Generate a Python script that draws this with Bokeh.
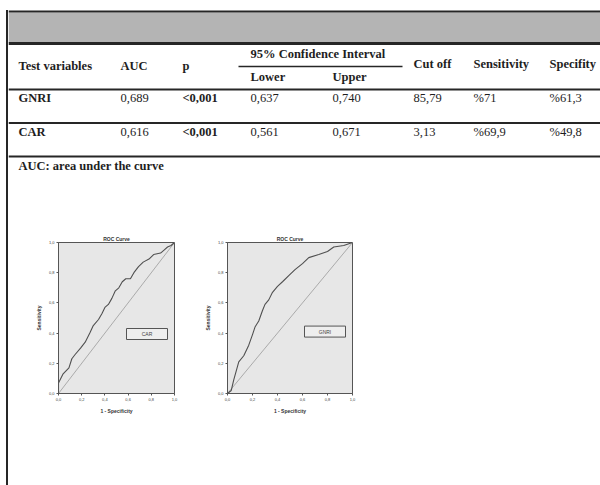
from bokeh.plotting import figure
from bokeh.models import Range1d, FixedTicker, Div
from bokeh.layouts import column, row
from bokeh.core.properties import value
from bokeh.embed import file_html
from bokeh.resources import INLINE

# ---------------- data ----------------
header_labels = ["Test variables", "AUC", "p", "95% Confidence Interval", "Lower", "Upper",
                 "Cut off", "Sensitivity", "Specifity"]
variables = ["GNRI", "CAR"]
auc = ["0,689", "0,616"]
p_values = ["<0,001", "<0,001"]
ci_lower = ["0,637", "0,561"]
ci_upper = ["0,740", "0,671"]
cut_off = ["85,79", "3,13"]
sensitivity = ["%71", "%69,9"]
specificity = ["%61,3", "%49,8"]
footnote = "AUC: area under the curve"

car_fpr = [0.0, 0.0, 0.04, 0.09, 0.115, 0.145, 0.19, 0.23, 0.27, 0.30, 0.345, 0.375, 0.40, 0.43,
           0.46, 0.49, 0.52, 0.55, 0.58, 0.62, 0.65, 0.69, 0.73, 0.78, 0.82, 0.88, 0.91, 0.94, 0.97, 1.0]
car_tpr = [0.0, 0.07, 0.13, 0.17, 0.23, 0.26, 0.30, 0.34, 0.40, 0.45, 0.49, 0.53, 0.57, 0.59,
           0.63, 0.68, 0.70, 0.74, 0.76, 0.76, 0.80, 0.84, 0.87, 0.89, 0.92, 0.93, 0.95, 0.97, 0.98, 1.0]
gnri_fpr = [0.0, 0.03, 0.05, 0.07, 0.09, 0.13, 0.17, 0.20, 0.22, 0.25, 0.28, 0.30, 0.33, 0.36,
            0.40, 0.44, 0.49, 0.54, 0.60, 0.65, 0.73, 0.80, 0.85, 0.93, 1.0]
gnri_tpr = [0.0, 0.02, 0.09, 0.15, 0.21, 0.25, 0.32, 0.39, 0.44, 0.48, 0.55, 0.59, 0.62, 0.67,
            0.71, 0.74, 0.78, 0.82, 0.86, 0.90, 0.92, 0.94, 0.97, 0.98, 1.0]
axis_ticks = [0.0, 0.2, 0.4, 0.6, 0.8, 1.0]
axis_tick_labels = ["0,0", "0,2", "0,4", "0,6", "0,8", "1,0"]

# ---------------- styles ----------------
SERIF = value("Liberation Serif")
SANS = "Liberation Sans"
INK = "#1e1e1e"
BORDER = "#262626"
FS = "12.5px"

# ---------------- table (page x 8..600, rows 0..223) ----------------
t = figure(width=592, height=223, x_range=Range1d(8, 600), y_range=Range1d(223, 0),
           output_backend="svg", toolbar_location=None, min_border=0,
           x_axis_location=None, y_axis_location=None, outline_line_color=None)
t.grid.visible = False

t.quad(left=[8], right=[600], top=[12], bottom=[42], fill_color="#b4b4b4", line_color=None)
t.segment(x0=[8], y0=[11], x1=[600], y1=[11], line_color=BORDER, line_width=2)
t.segment(x0=[8], y0=[43], x1=[600], y1=[43], line_color=BORDER, line_width=3)
t.segment(x0=[8, 8, 8], y0=[89, 122.5, 156], x1=[600, 600, 600], y1=[89, 122.5, 156],
          line_color=BORDER, line_width=2)
t.segment(x0=[238], y0=[66], x1=[402], y1=[66], line_color=BORDER, line_width=1.5)

col_x = [18, 120, 182, 250, 332, 413, 473, 549]
hdr_x = [18, 120, 182, 250, 250, 332, 413, 473, 549]
hdr_y = [65, 65, 65, 53, 76, 76, 63, 63, 63]
t.text(x=hdr_x, y=hdr_y, text=header_labels, text_font=SERIF, text_font_style="bold",
       text_font_size=FS, text_color=INK, text_baseline="middle", text_align="left")

row_y = [97, 131]
for i, yv in enumerate(row_y):
    t.text(x=[col_x[0], col_x[2]], y=[yv, yv], text=[variables[i], p_values[i]],
           text_font=SERIF, text_font_style="bold", text_font_size=FS,
           text_color=INK, text_baseline="middle")
    vals = [auc[i], ci_lower[i], ci_upper[i], cut_off[i], sensitivity[i], specificity[i]]
    xs = [col_x[1], col_x[3], col_x[4], col_x[5], col_x[6], col_x[7]]
    t.text(x=xs, y=[yv] * len(xs), text=vals, text_font=SERIF, text_font_size=FS,
           text_color=INK, text_baseline="middle")

t.text(x=[18], y=[165], text=[footnote], text_font=SERIF, text_font_style="bold",
       text_font_size=FS, text_color=INK, text_baseline="middle")


# ---------------- ROC figures (page rows 223..425) ----------------
def roc_fig(fpr, tpr, name, left_border, frame_w, legend_x, legend_y):
    r = figure(width=left_border + frame_w + 10, height=202,
               x_range=Range1d(0, 1), y_range=Range1d(0, 1),
               min_border_left=left_border, min_border_right=10,
               min_border_top=19, min_border_bottom=32,
               title="ROC Curve", output_backend="svg", toolbar_location=None,
               background_fill_color="#e7e7e7", outline_line_color="#555555",
               outline_line_width=1)
    r.title.align = "center"
    r.title.text_font = SANS
    r.title.text_font_size = "5px"
    r.title.text_font_style = "bold"
    r.title.text_color = "#333333"
    r.title.standoff = 1
    r.grid.visible = False
    r.line([0, 1], [0, 1], line_color="#9a9a9a", line_width=0.8)
    r.line(fpr, tpr, line_color="#505050", line_width=1.1)
    overrides = {tk: lb for tk, lb in zip(axis_ticks, axis_tick_labels)}
    for ax, lab in ((r.xaxis[0], "1 - Specificity"), (r.yaxis[0], "Sensitivity")):
        ax.ticker = FixedTicker(ticks=axis_ticks)
        ax.major_label_overrides = overrides
        ax.minor_tick_line_color = None
        ax.major_tick_in = 0
        ax.major_tick_out = 2
        ax.major_tick_line_color = "#555555"
        ax.axis_line_color = "#555555"
        ax.major_label_text_font = SANS
        ax.major_label_text_font_size = "4px"
        ax.major_label_text_color = "#444444"
        ax.major_label_standoff = 2
        ax.axis_label = lab
        ax.axis_label_text_font = SANS
        ax.axis_label_text_font_size = "5px"
        ax.axis_label_text_font_style = "bold"
        ax.axis_label_text_color = "#333333"
        ax.axis_label_standoff = 4
    r.rect(x=[legend_x], y=[legend_y], width=41, height=11, width_units="screen",
           height_units="screen", fill_color="#eeeeee", line_color="#555555", line_width=1)
    r.text(x=[legend_x], y=[legend_y], text=[name], text_font=value(SANS),
           text_font_size="5px", text_color="#444444", text_align="center",
           text_baseline="middle")
    return r


roc_car = roc_fig(car_fpr, car_tpr, "CAR", 40, 116, 0.763, 0.394)
roc_gnri = roc_fig(gnri_fpr, gnri_tpr, "GNRI", 28, 125, 0.78, 0.41)


def blank(w, h, color=None):
    st = {"background-color": color} if color else {}
    return Div(text="", width=w, height=h, margin=0, styles=st)


middle = row(blank(10, 202), roc_car, blank(15, 202), roc_gnri, blank(230, 202), spacing=0)
body = column(t, middle, blank(592, 60), spacing=0)

# left frame line of the whole sheet, from the top rule down past the bottom
left_edge = column(blank(2, 10), blank(2, 475, BORDER), spacing=0)
p = row(blank(6, 485), left_edge, body, spacing=0)

open("out.html", "w").write(file_html(p, INLINE))
